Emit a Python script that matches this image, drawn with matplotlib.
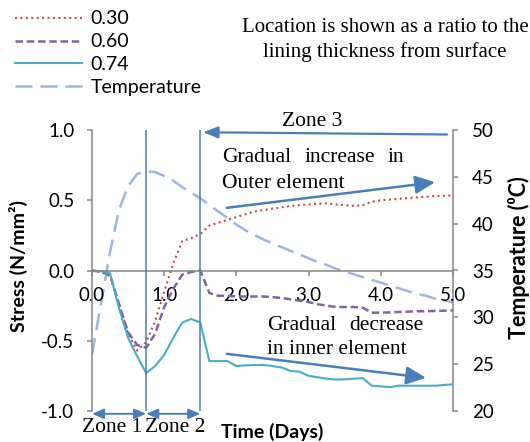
import matplotlib
matplotlib.use("Agg")
import matplotlib.pyplot as plt
import numpy as np

# ---------------- data ----------------
days = [0.0, 0.125, 0.25, 0.375, 0.5, 0.625, 0.75, 0.875, 1.0, 1.125, 1.25, 1.375,
        1.5, 1.625, 1.75, 1.875, 2.0, 2.125, 2.25, 2.375, 2.5, 2.625, 2.75, 2.875,
        3.0, 3.125, 3.25, 3.375, 3.5, 3.625, 3.75, 3.875, 4.0, 4.125, 4.25, 4.375,
        4.5, 4.625, 4.75, 4.875, 5.0]

stress_030 = [0.0, -0.01, -0.04, -0.24, -0.45, -0.57, -0.51, -0.36, -0.15, 0.05, 0.21, 0.23,
              0.26, 0.32, 0.34, 0.36, 0.38, 0.40, 0.42, 0.43, 0.44, 0.45, 0.46, 0.465,
              0.47, 0.475, 0.477, 0.47, 0.465, 0.46, 0.465, 0.49, 0.50, 0.505, 0.51, 0.515,
              0.52, 0.525, 0.53, 0.532, 0.534]

stress_060 = [0.0, -0.01, -0.03, -0.24, -0.44, -0.53, -0.55, -0.45, -0.26, -0.13, -0.03, -0.01,
              0.0, -0.16, -0.18, -0.18, -0.185, -0.185, -0.185, -0.185, -0.19, -0.195, -0.205, -0.215,
              -0.225, -0.24, -0.25, -0.26, -0.26, -0.26, -0.265, -0.30, -0.30, -0.298, -0.295, -0.293,
              -0.29, -0.29, -0.288, -0.286, -0.284]

stress_074 = [0.0, -0.005, -0.02, -0.27, -0.48, -0.61, -0.73, -0.68, -0.60, -0.48, -0.37, -0.345,
              -0.37, -0.645, -0.645, -0.645, -0.68, -0.675, -0.673, -0.672, -0.68, -0.69, -0.715, -0.72,
              -0.75, -0.76, -0.77, -0.776, -0.775, -0.77, -0.766, -0.82, -0.825, -0.83, -0.82, -0.82,
              -0.82, -0.82, -0.82, -0.815, -0.81]

temperature = [26.0, 31.5, 37.0, 41.5, 44.0, 45.3, 45.6, 45.5, 45.1, 44.6, 43.9, 43.3,
               42.7, 42.0, 41.3, 40.6, 39.9, 39.3, 38.8, 38.3, 37.9, 37.5, 37.1, 36.7,
               36.3, 35.9, 35.6, 35.2, 34.9, 34.6, 34.3, 34.0, 33.7, 33.4, 33.1, 32.8,
               32.5, 32.3, 32.0, 31.8, 31.6]

series_labels = ["0.30", "0.60", "0.74", "Temperature"]
x_ticks = [0, 1, 2, 3, 4, 5]
x_ticklabels = ["0.0", "1.0", "2.0", "3.0", "4.0", "5.0"]
y_ticks = [-1.0, -0.5, 0.0, 0.5, 1.0]
y2_ticks = [20, 25, 30, 35, 40, 45, 50]
zone_bounds = [0.0, 0.75, 1.5]

# ---------------- style ----------------
W, H = 530, 442
SANS = ["Lato", "DejaVu Sans"]
SERIF = "Liberation Serif"
GRAY = "#868686"
ARROW = "#4A7EBB"
C_RED = "#C0504D"
C_PUR = "#8064A2"
C_CYAN = "#4BACC6"
C_TEMP = "#9FB6DB"
TICK_FS = 13.5
LEG_FS = 14
SERIF_FS = 15.5

def fx(px):
    return px / W

def fy(py):
    return 1 - py / H

fig = plt.figure(figsize=(W / 100, H / 100), dpi=100)
ax = fig.add_axes([fx(92), fy(411), (453 - 92) / W, (411 - 130) / H])
ax2 = ax.twinx()
ax.set_zorder(ax2.get_zorder() + 1)
ax.patch.set_visible(False)

l1, = ax.plot(days, stress_030, color=C_RED, lw=1.5, linestyle=(0, (1, 1.6)),
              dash_capstyle="butt")
l2, = ax.plot(days, stress_060, color=C_PUR, lw=1.8, linestyle=(0, (3.0, 1.5)))
l3, = ax.plot(days, stress_074, color=C_CYAN, lw=1.5)
l4, = ax2.plot(days, temperature, color=C_TEMP, lw=1.8, linestyle=(0, (6.8, 3.2)))

ax.set_xlim(0, 5)
ax.set_ylim(-1, 1)
ax2.set_ylim(20, 50)

# spines
for s in ["top", "right"]:
    ax.spines[s].set_visible(False)
ax.spines["bottom"].set_position(("data", 0))
for s in ["left", "bottom"]:
    ax.spines[s].set_color(GRAY)
    ax.spines[s].set_linewidth(1.1)
for s in ["top", "left", "bottom"]:
    ax2.spines[s].set_visible(False)
ax2.spines["right"].set_color(GRAY)
ax2.spines["right"].set_linewidth(1.1)

ax.set_xticks(x_ticks)
ax.set_xticklabels(x_ticklabels)
ax.set_yticks(y_ticks)
ax.set_yticklabels([f"{v:.1f}" for v in y_ticks])
ax2.set_yticks(y2_ticks)
ax2.set_yticklabels([str(v) for v in y2_ticks])

ax.tick_params(axis="x", direction="out", length=3.6, width=1.1, color=GRAY,
               pad=8, labelsize=TICK_FS)
ax.tick_params(axis="y", direction="out", length=3.6, width=1.1, color=GRAY,
               pad=9, labelsize=TICK_FS)
ax2.tick_params(axis="y", direction="out", length=3.6, width=1.1, color=GRAY,
                pad=10, labelsize=TICK_FS)
for lab in ax.get_xticklabels() + ax.get_yticklabels() + ax2.get_yticklabels():
    lab.set_family(SANS)

# zone boundary lines
for zb in zone_bounds[1:]:
    ax.axvline(zb, color=ARROW, lw=1.1, zorder=5)

def arrow(tail, tip, style, lw, ms):
    ax.annotate("", xy=tip, xytext=tail, xycoords="data", textcoords="data",
                annotation_clip=False,
                arrowprops=dict(arrowstyle=style, color=ARROW, lw=lw,
                                shrinkA=0, shrinkB=0, mutation_scale=ms),
                zorder=6)

# Zone 3 arrow
arrow((4.917, 0.968), (1.537, 0.984), "-|>,head_length=0.9,head_width=0.35", 1.6, 10)
# outer element arrow
arrow((1.866, 0.446), (4.751, 0.628), "-|>,head_length=1.2,head_width=0.55", 1.8, 10)
# inner element arrow
arrow((1.866, -0.593), (4.626, -0.764), "-|>,head_length=1.2,head_width=0.55", 1.8, 10)
# zone 1 and 2 arrows
arrow((zone_bounds[0], -1.02), (zone_bounds[1], -1.02), "<|-|>,head_length=0.7,head_width=0.3", 1.4, 10)
arrow((zone_bounds[1], -1.02), (zone_bounds[2], -1.02), "<|-|>,head_length=0.7,head_width=0.3", 1.4, 10)

# serif annotations
def stext(px, py, s, ha="center", size=SERIF_FS):
    fig.text(fx(px), fy(py), s, ha=ha, va="center", family=SERIF, size=size)

stext(385, 28, "Location is shown as a ratio to the", size=15)
stext(385, 52, "lining thickness from surface", size=15)
stext(312, 121, "Zone 3")
stext(222, 157, "Gradual", ha="left")
stext(339.5, 157, "increase")
stext(404, 157, "in", ha="right")
stext(222, 183, "Outer element", ha="left")
stext(266.7, 326, "Gradual", ha="left")
stext(424, 326, "decrease", ha="right")
stext(266.7, 350, "in inner element", ha="left")
stext(112.5, 428, "Zone 1")
stext(175, 428, "Zone 2")

# axis labels
fig.text(fx(272), fy(432), "Time (Days)", ha="center", va="center",
         family=SANS, weight="bold", size=14)
fig.text(fx(18), fy(266), "Stress (N/mm²)", ha="center", va="center",
         rotation=90, family=SANS, weight="bold", size=14)
fig.text(fx(519), fy(258), "Temperature (⁰C)", ha="center", va="center",
         rotation=90, family=SANS, weight="bold", size=15.5)

# legend
leg = fig.legend([l1, l2, l3, l4], series_labels, loc="upper left",
                 bbox_to_anchor=(fx(15), fy(10.5)), frameon=False,
                 prop={"family": SANS, "size": LEG_FS},
                 handlelength=3.45, handletextpad=0.45, labelspacing=0.3,
                 borderpad=0, borderaxespad=0)

fig.savefig("out.png", dpi=100)
